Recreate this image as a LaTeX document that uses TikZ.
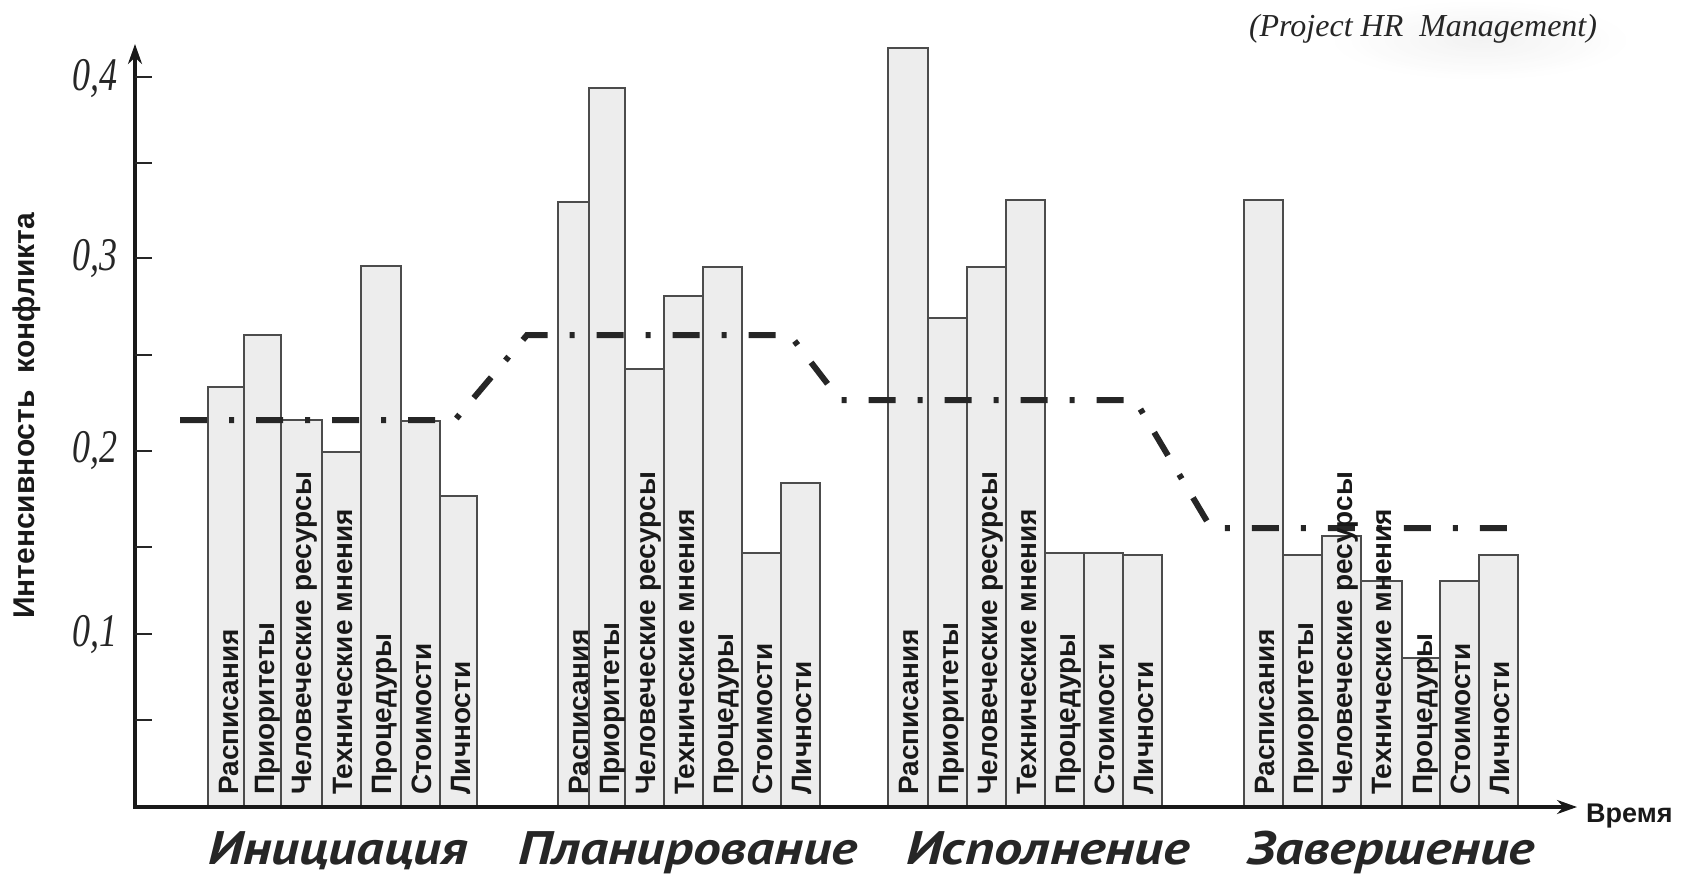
\documentclass[tikz,border=0pt]{standalone}
\usepackage{fontspec}
\setmainfont{Liberation Serif}
\setsansfont{Liberation Sans}
\newfontfamily\phasefont{PT Sans}
\usepackage{graphicx}
\usetikzlibrary{arrows.meta}
\newcommand\catname[1]{\ifcase#1\or Расписания\or Приоритеты\or Человеческие ресурсы\or Технические мнения\or Процедуры\or Стоимости\or Личности\fi}
\tikzset{
  bar/.style={draw=black!70, line width=1.3pt, fill=black!7},
  barlabel/.style={rotate=90, anchor=base west, inner sep=0pt, text=black!90,
    font=\sffamily\bfseries\fontsize{28}{28}\selectfont},
  trend/.style={line width=6pt, black!85, dash pattern=on 27pt off 22pt on 5pt off 22pt},
  axis/.style={line width=3.5pt, black!90, -{Stealth[length=20pt,width=14pt]}},
  tickmark/.style={line width=1.6pt, black!85},
  ticklabel/.style={anchor=east, inner sep=0pt, text=black!85,
    font=\itshape\fontsize{36}{36}\selectfont},
  phase/.style={anchor=base, inner sep=0pt, text=black!85,
    font=\phasefont\bfseries\itshape\fontsize{47}{47}\selectfont},
  plainlabel/.style={inner sep=0pt, text=black!90,
    font=\sffamily\bfseries\fontsize{27}{27}\selectfont},
}
\begin{document}
\begin{tikzpicture}[x=1pt,y=-1pt]
\useasboundingbox (0,0) rectangle (1681,875);
% scan smudge behind title
\shade[inner color=black!7, outer color=white, opacity=0.7] (1480,40) ellipse (150 and 40);

% bars: group/index/left/right/top
\foreach \g/\k/\l/\r/\t in {
  1/1/208/244/387, 1/2/244/281/335, 1/3/281/322/420, 1/4/322/361/452, 1/5/361/401/266, 1/6/401/440/421, 1/7/440/477/496,
  2/1/558/589/202, 2/2/589/625/88,  2/3/625/664/369, 2/4/664/703/296, 2/5/703/742/267, 2/6/742/781/553, 2/7/781/820/483,
  3/1/888/928/48,  3/2/928/967/318, 3/3/967/1006/267, 3/4/1006/1045/200, 3/5/1045/1084/553, 3/6/1084/1123/553, 3/7/1123/1162/555,
  4/1/1244/1283/200, 4/2/1283/1322/555, 4/3/1322/1361/536, 4/4/1361/1402/581, 4/5/1402/1440/658, 4/6/1440/1479/581, 4/7/1479/1518/555}
{
  \draw[bar] (\l,807) rectangle (\r,\t);
}

% trend line
\coordinate (t0) at (180,420);
\coordinate (t1) at (455,420);
\coordinate (t2) at (527,335);
\coordinate (t3) at (790,335);
\coordinate (t4) at (840,400);
\coordinate (t5) at (1135,400);
\coordinate (t6) at (1211,528);
\coordinate (t7) at (1524,528);
\draw[trend] (t0) -- (t1) -- (t2) -- (t3) -- (t4) -- (t5) -- (t6) -- (t7);

% bar labels
\foreach \g/\k/\l in {
  1/1/208, 1/2/244, 1/3/281, 1/4/322, 1/5/361, 1/6/401, 1/7/440,
  2/1/558, 2/2/589, 2/3/625, 2/4/664, 2/5/703, 2/6/742, 2/7/781,
  3/1/888, 3/2/928, 3/3/967, 3/4/1006, 3/5/1045, 3/6/1084, 3/7/1123,
  4/1/1244, 4/2/1283, 4/3/1322, 4/4/1361, 4/5/1402, 4/6/1440, 4/7/1479}
{
  \node[barlabel] (lab-\g-\k) at (\l+30,795) {\catname{\k}};
}

% axes
\coordinate (origin) at (135,807);
\coordinate (ytop) at (135,44);
\coordinate (xend) at (1577,807);
\draw[axis] (origin) -- (ytop);
\draw[axis] ([xshift=-1.75pt]origin) -- (xend);

% ticks
\foreach \y in {77,163,258,355,451,547,634,720}
  \draw[tickmark] (135,\y) -- (152,\y);
\node[ticklabel] (y4) at (118,79) {\scalebox{1}[1.3]{0,4}};
\node[ticklabel] (y3) at (118,259) {\scalebox{1}[1.3]{0,3}};
\node[ticklabel] (y2) at (118,451) {\scalebox{1}[1.3]{0,2}};
\node[ticklabel] (y1) at (118,635) {\scalebox{1}[1.3]{0,1}};

% axis titles
\node[plainlabel, rotate=90, font=\sffamily\bfseries\fontsize{30}{30}\selectfont] (ylab) at (27,416) {Интенсивность\ \ конфликта};
\node[plainlabel, anchor=west] (time) at (1586,816) {Время};
\node[inner sep=0pt, text=black!85, font=\itshape\fontsize{32}{32}\selectfont] (title) at (1423,29) {(Project HR\ \ Management)};

% phases
\node[phase] (ph1) at (338,864) {\resizebox{259pt}{\height}{Инициация}};
\node[phase] (ph2) at (688,864) {\resizebox{339pt}{\height}{Планирование}};
\node[phase] (ph3) at (1048,864) {\resizebox{284pt}{\height}{Исполнение}};
\node[phase] (ph4) at (1391,864) {\resizebox{288pt}{\height}{Завершение}};
\end{tikzpicture}
\end{document}
